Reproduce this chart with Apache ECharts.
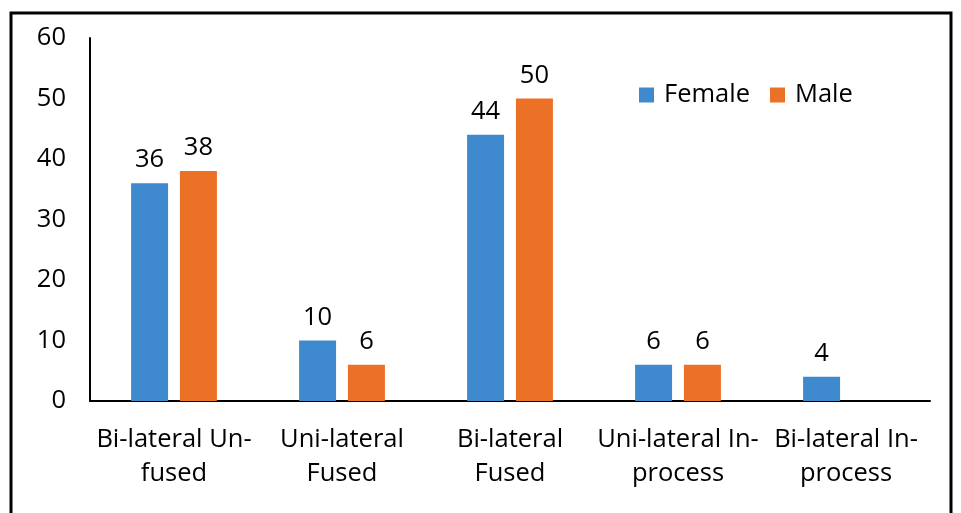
<!DOCTYPE html>
<html><head><meta charset="utf-8">
<script src="https://cdn.jsdelivr.net/npm/echarts@6/dist/echarts.min.js"></script>
<style>html,body{margin:0;padding:0;background:#fff}#c{width:961px;height:513px}</style>
</head><body><div id="c"></div>
<script>
const categories = ["Bi-lateral Un-\nfused", "Uni-lateral\nFused", "Bi-lateral\nFused", "Uni-lateral In-\nprocess", "Bi-lateral In-\nprocess"];
const female = [36, 10, 44, 6, 4];
const male = [38, 6, 50, 6, null];
const yTicks = {min: 0, max: 60, interval: 10};

const font = "'Open Sans', sans-serif";
const fs = 25.5;
const chart = echarts.init(document.getElementById('c'));
chart.setOption({
  backgroundColor: '#fff',
  animation: false,
  textStyle: {fontFamily: font},
  graphic: [{type: 'rect', shape: {x: 11, y: 13, width: 940, height: 520}, style: {fill: 'none', stroke: '#000', lineWidth: 3}, z: 100}],
  legend: {
    data: ['Female', 'Male'], left: 634, top: 77, itemWidth: 15, itemHeight: 15, itemGap: 20,
    icon: 'rect',
    textStyle: {fontFamily: font, fontSize: fs, color: '#000', padding: [0, 0, 0, 5]}
  },
  grid: {left: 90, right: 31, top: 38, bottom: 112},
  xAxis: {
    type: 'category', data: categories,
    axisLine: {lineStyle: {color: '#000', width: 2}}, axisTick: {show: false},
    axisLabel: {fontFamily: font, fontSize: fs, color: '#000', lineHeight: 34, margin: 22, interval: 0}
  },
  yAxis: {
    type: 'value', min: yTicks.min, max: yTicks.max, interval: yTicks.interval,
    axisLine: {show: true, lineStyle: {color: '#000', width: 2}}, axisTick: {show: false},
    splitLine: {show: false},
    axisLabel: {fontFamily: font, fontSize: fs, color: '#000', margin: 24}
  },
  series: [
    {name: 'Female', type: 'bar', data: female, barWidth: 37, barGap: '32%', itemStyle: {color: '#3F8ACF'},
     label: {show: true, position: 'top', distance: 10, fontFamily: font, fontSize: fs, color: '#000'}},
    {name: 'Male', type: 'bar', data: male, barWidth: 37, itemStyle: {color: '#EA7125'},
     label: {show: true, position: 'top', distance: 10, fontFamily: font, fontSize: fs, color: '#000'}}
  ]
});
</script></body></html>
